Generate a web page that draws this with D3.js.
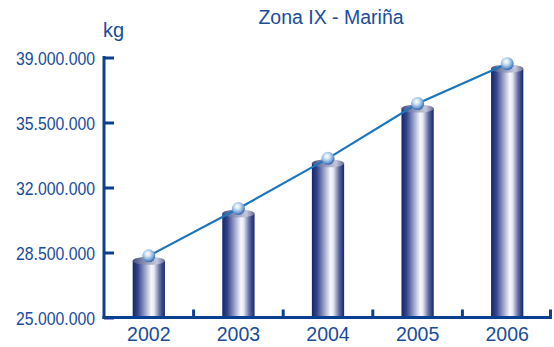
<!DOCTYPE html>
<html>
<head>
<meta charset="utf-8">
<script src="https://cdn.jsdelivr.net/npm/d3@7"></script>
<style>
  html, body { margin: 0; padding: 0; background: #fff; }
  svg { display: block; }
</style>
</head>
<body>
<svg id="chart" width="554" height="347"></svg>
<script>
// Annual catch, Zona IX - Mariña (kg)
const years = ["2002", "2003", "2004", "2005", "2006"];
const kilograms = [28050000, 30600000, 33300000, 36250000, 38400000];
const yTicks = [25000000, 28500000, 32000000, 35500000, 39000000];
const yTickLabels = ["25.000.000", "28.500.000", "32.000.000", "35.500.000", "39.000.000"];

const svg = d3.select("#chart");
const textColor = "#1a4c9c";
const axisColor = "#0b3f92";
const font = "'Liberation Sans', Arial, sans-serif";

const x = d3.scaleBand().domain(years).range([104, 552]).paddingInner(0).paddingOuter(0);
const y = d3.scaleLinear().domain([25000000, 39000000]).range([317.5, 57.5]);

const defs = svg.append("defs");

// Cylinder body shading
const body = defs.append("linearGradient").attr("id", "cylBody")
  .attr("x1", "0%").attr("x2", "100%").attr("y1", "0%").attr("y2", "0%");
[[0, "#14266a"], [0.16, "#34448a"], [0.4, "#a3abcc"], [0.58, "#f7f8fc"], [0.66, "#e8eaf3"],
 [0.84, "#5f6aa0"], [1, "#14266a"]].forEach(([o, c]) =>
  body.append("stop").attr("offset", o).attr("stop-color", c));

// Cylinder top cap
const cap = defs.append("linearGradient").attr("id", "cylCap")
  .attr("x1", "0%").attr("x2", "100%").attr("y1", "0%").attr("y2", "0%");
[[0, "#454d82"], [0.5, "#a4a9c6"], [0.75, "#c4c7da"], [1, "#656b96"]].forEach(([o, c]) =>
  cap.append("stop").attr("offset", o).attr("stop-color", c));

// Glossy marker sphere
const ball = defs.append("radialGradient").attr("id", "ball")
  .attr("cx", "42%").attr("cy", "35%").attr("r", "65%");
[[0, "#ffffff"], [0.3, "#d4e6f6"], [0.7, "#7ba7d8"], [1, "#2f64ad"]].forEach(([o, c]) =>
  ball.append("stop").attr("offset", o).attr("stop-color", c));

// Title and unit
svg.append("text").attr("x", 331).attr("y", 24).attr("text-anchor", "middle")
  .attr("font-family", font).attr("font-size", 19.5).attr("fill", textColor)
  .text("Zona IX - Mariña");
svg.append("text").attr("x", 103).attr("y", 37)
  .attr("font-family", font).attr("font-size", 20).attr("fill", textColor)
  .text("kg");

// Bars as cylinders
const barW = x.bandwidth() * 0.36;
const bars = svg.append("g");
years.forEach((yr, i) => {
  const cx = x(yr) + x.bandwidth() / 2;
  const top = y(kilograms[i]);
  bars.append("rect")
    .attr("x", cx - barW / 2).attr("y", top)
    .attr("width", barW).attr("height", y(25000000) - top)
    .attr("fill", "url(#cylBody)");
  bars.append("ellipse")
    .attr("cx", cx).attr("cy", top)
    .attr("rx", barW / 2).attr("ry", 4)
    .attr("fill", "url(#cylCap)");
});

// Axes
const yAxis = svg.append("g").attr("transform", "translate(104,0)")
  .call(d3.axisRight(y).tickValues(yTicks).tickSize(10).tickFormat(""));
yAxis.select(".domain").remove();
yAxis.selectAll("line").attr("stroke", axisColor).attr("stroke-width", 3);
svg.append("line").attr("x1", 104).attr("x2", 104)
  .attr("y1", y(39000000) - 1.5).attr("y2", y(25000000) + 1.5)
  .attr("stroke", axisColor).attr("stroke-width", 3);

svg.selectAll(".ylab").data(yTicks).join("text").attr("class", "ylab")
  .attr("x", 95).attr("y", d => y(d) + 7)
  .attr("text-anchor", "end")
  .attr("font-family", font).attr("font-size", 19).attr("fill", textColor)
  .attr("textLength", 79).attr("lengthAdjust", "spacingAndGlyphs")
  .text((d, i) => yTickLabels[i]);

svg.append("line").attr("x1", 102.5).attr("x2", 552)
  .attr("y1", y(25000000)).attr("y2", y(25000000))
  .attr("stroke", axisColor).attr("stroke-width", 3);
const bounds = years.map(yr => x(yr) + x.bandwidth());
svg.selectAll(".xtick").data(bounds).join("line").attr("class", "xtick")
  .attr("x1", d => d === 552 ? d - 1.5 : d).attr("x2", d => d === 552 ? d - 1.5 : d)
  .attr("y1", y(25000000)).attr("y2", y(25000000) - 8)
  .attr("stroke", axisColor).attr("stroke-width", 3);

svg.selectAll(".xlab").data(years).join("text").attr("class", "xlab")
  .attr("x", d => x(d) + x.bandwidth() / 2).attr("y", 341)
  .attr("text-anchor", "middle")
  .attr("font-family", font).attr("font-size", 19.5).attr("fill", textColor)
  .text(d => d);

// Trend line over the bar tops, with markers
const pts = years.map((yr, i) => [x(yr) + x.bandwidth() / 2, y(kilograms[i]) - 5]);
svg.append("path").attr("d", d3.line()(pts))
  .attr("fill", "none").attr("stroke", "#1b76bd").attr("stroke-width", 2.2);
svg.selectAll(".ball").data(pts).join("circle").attr("class", "ball")
  .attr("cx", d => d[0]).attr("cy", d => d[1]).attr("r", 6.5)
  .attr("fill", "url(#ball)");
</script>
</body>
</html>
